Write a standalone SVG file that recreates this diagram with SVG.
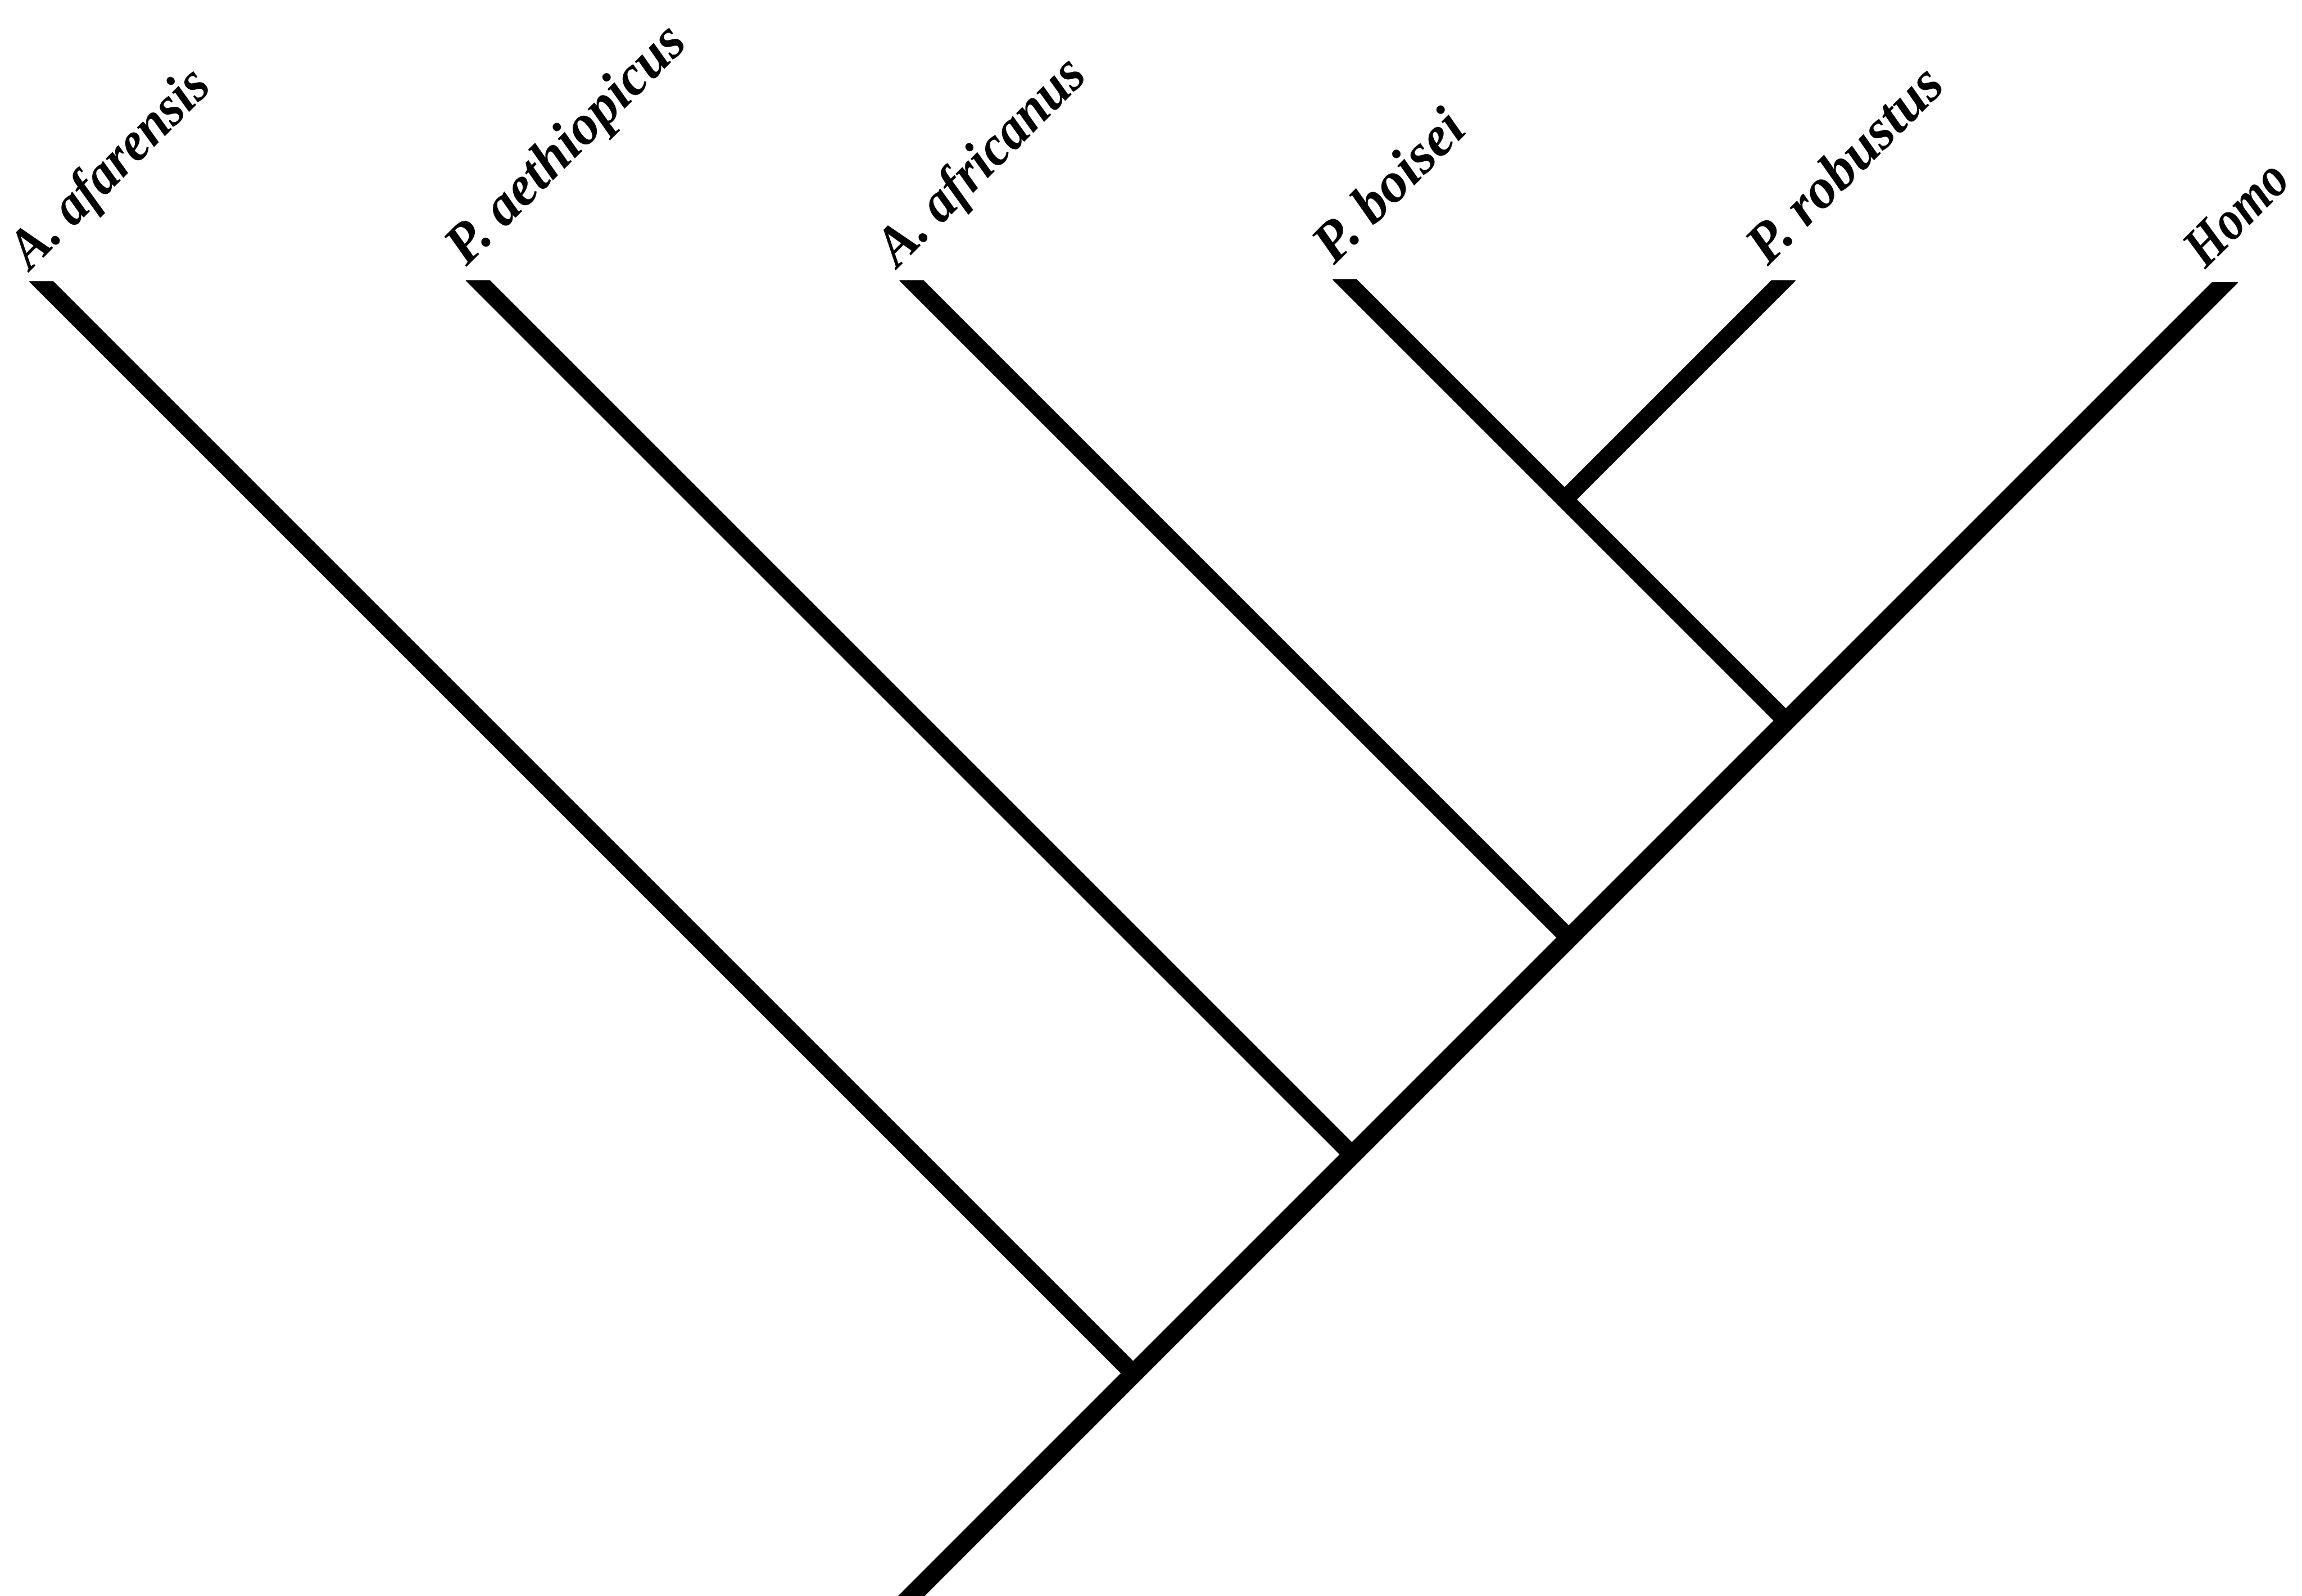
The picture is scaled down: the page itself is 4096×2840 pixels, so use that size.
<svg xmlns="http://www.w3.org/2000/svg" width="4096" height="2840" viewBox="0 0 4096 2840">
<style>
.lbl { font-family: "Liberation Serif", "DejaVu Serif", serif; font-style: italic; font-weight: bold; font-size: 116px; fill: #000; }
.br { fill: #000; stroke: #000; stroke-width: 2; stroke-linejoin: round; }
</style>
<rect x="0" y="0" width="4096" height="2840" fill="#fff"/>
<g transform="scale(0.867)">
<g id="connectors">
<polygon class="br" points="61,578 109,578 2339,2808 2315,2832"/>
<polygon class="br" points="957,576 1005,576 2788,2359 2764,2383"/>
<polygon class="br" points="1847,576 1895,576 3233,1914 3209,1938"/>
<polygon class="br" points="2736,574 2784,574 3678,1468 3654,1492"/>
<polygon class="br" points="3636,576 3684,576 3223,1037 3199,1013"/>
<polygon class="br" points="4540,580 4592,580 1882,3290 1830,3290"/>
</g>
<g id="node-afarensis"><text class="lbl" transform="translate(62,556) rotate(-45)" textLength="530" lengthAdjust="spacingAndGlyphs">A. afarensis</text></g>
<g id="node-aethiopicus"><text class="lbl" transform="translate(957,548) rotate(-45)" textLength="645" lengthAdjust="spacingAndGlyphs">P. aethiopicus</text></g>
<g id="node-africanus"><text class="lbl" transform="translate(1842,551) rotate(-45)" textLength="554" lengthAdjust="spacingAndGlyphs">A. africanus</text></g>
<g id="node-boisei"><text class="lbl" transform="translate(2738,545) rotate(-45)" textLength="390" lengthAdjust="spacingAndGlyphs">P. boisei</text></g>
<g id="node-robustus"><text class="lbl" transform="translate(3628,547) rotate(-45)" textLength="519" lengthAdjust="spacingAndGlyphs">P. robustus</text></g>
<g id="node-homo"><text class="lbl" transform="translate(4526,553) rotate(-45)" textLength="252" lengthAdjust="spacingAndGlyphs">Homo</text></g>
</g>
</svg>
